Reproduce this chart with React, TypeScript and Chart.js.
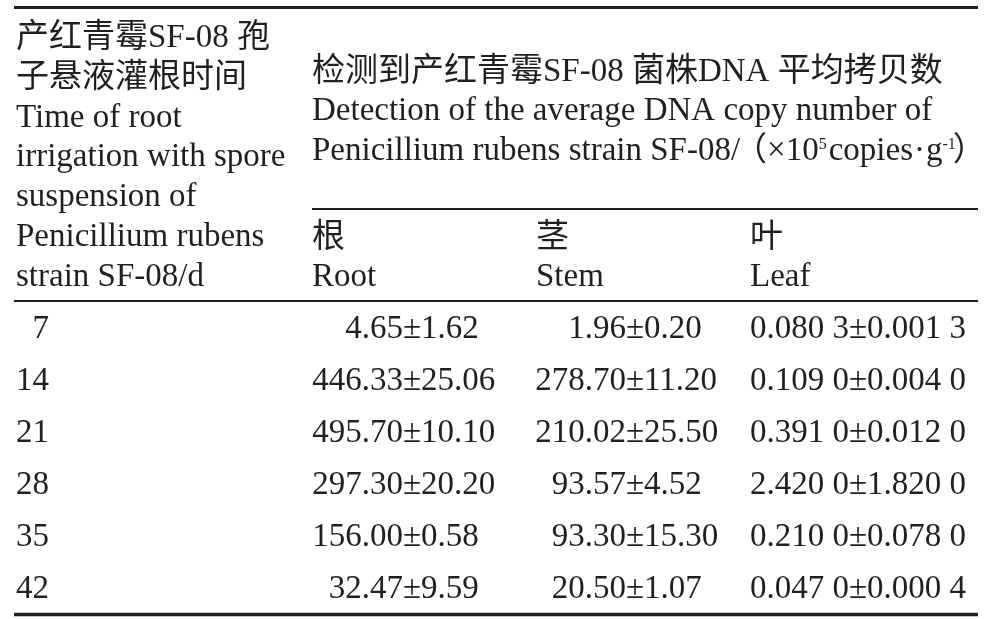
import { useEffect, useRef } from "react";
import { Chart, registerables } from "chart.js";

Chart.register(...registerables);

// ---------- data ----------
const days = [7, 14, 21, 28, 35, 42];
const rootMean = [4.65, 446.33, 495.7, 297.3, 156.0, 32.47];
const rootSd = [1.62, 25.06, 10.1, 20.2, 0.58, 9.59];
const stemMean = [1.96, 278.7, 210.02, 93.57, 93.3, 20.5];
const stemSd = [0.2, 11.2, 25.5, 4.52, 15.3, 1.07];
const leafMean = [0.0803, 0.109, 0.391, 2.42, 0.21, 0.047];
const leafSd = [0.0013, 0.004, 0.012, 1.82, 0.078, 0.0004];

const firstColHeader = [
  "产红青霉SF-08 孢",
  "子悬液灌根时间",
  "Time of root",
  "irrigation with spore",
  "suspension of",
  "Penicillium rubens",
  "strain SF-08/d",
];
const groupHeaderLine1 = "检测到产红青霉SF-08 菌株DNA 平均拷贝数";
const groupHeaderLine2 = "Detection of the average DNA copy number of";
const groupHeaderLine3 = [
  { t: "Penicillium rubens strain SF-08/" },
  { gap: -6 },
  { t: "（" },
  { gap: 0 },
  { t: "×10" },
  { t: "5", sup: true },
  { gap: 2 },
  { t: "copies" },
  { gap: 1 },
  { t: "·" },
  { gap: 1 },
  { t: "g" },
  { t: "-1", sup: true },
  { gap: -3 },
  { t: "）" },
];
const subHeadersCn = ["根", "茎", "叶"];
const subHeadersEn = ["Root", "Stem", "Leaf"];

// ---------- layout / style ----------
const W = 996;
const H = 619;
const COLOR = "#231f20";
const FS = 33;
const SUP_FS = 16;
const font = (s: number) => `${s}px "Liberation Serif", "Noto Sans CJK SC", serif`;
const LEFT = 14;
const RIGHT = 978;
const col1TextX = 16;
const groupX = 312;
const subColX = [312, 536, 750];
const dayRightX = 49;
const pmAnchors = [412, 635, 858]; // centre of the ± sign per value column
const headerFirstBaseline = 47;
const headerLineStep = 39.8;
const groupFirstBaseline = 80.5;
const subCnBaseline = 246.5;
const subEnBaseline = 286;
const firstRowBaseline = 338;
const rowStep = 52;
const rules = [
  { y: 7.5, x0: LEFT, x1: RIGHT, w: 3 },
  { y: 209, x0: groupX, x1: RIGHT, w: 2 },
  { y: 301, x0: LEFT, x1: RIGHT, w: 2 },
  { y: 614.5, x0: LEFT, x1: RIGHT, w: 3.5 },
];

const fmt2 = (v: number) => v.toFixed(2);
const fmt4 = (v: number) => {
  const s = v.toFixed(4);
  return s.slice(0, -1) + " " + s.slice(-1);
};

const valueColumns = [
  { mean: rootMean, sd: rootSd, f: fmt2 },
  { mean: stemMean, sd: stemSd, f: fmt2 },
  { mean: leafMean, sd: leafSd, f: fmt4 },
];

const tablePlugin = {
  id: "tableDraw",
  afterDraw(chart: any) {
    const { ctx } = chart;
    const xs = chart.scales.x;
    const ys = chart.scales.y;
    const px = (v: number) => xs.getPixelForValue(v);
    const py = (v: number) => ys.getPixelForValue(v);
    ctx.save();
    ctx.fillStyle = COLOR;
    ctx.strokeStyle = COLOR;
    ctx.textBaseline = "alphabetic";

    // rules
    rules.forEach((r) => {
      ctx.lineWidth = r.w;
      ctx.beginPath();
      ctx.moveTo(px(r.x0), py(r.y));
      ctx.lineTo(px(r.x1), py(r.y));
      ctx.stroke();
    });

    ctx.font = font(FS);
    ctx.textAlign = "left";
    firstColHeader.forEach((t, i) => {
      ctx.fillText(t, px(col1TextX), py(headerFirstBaseline + i * headerLineStep));
    });
    ctx.fillText(groupHeaderLine1, px(groupX), py(groupFirstBaseline));
    ctx.fillText(groupHeaderLine2, px(groupX), py(groupFirstBaseline + headerLineStep));
    // rich third line
    let cx = px(groupX);
    const by = py(groupFirstBaseline + 2 * headerLineStep);
    groupHeaderLine3.forEach((s: any) => {
      if (s.gap !== undefined) {
        cx += s.gap;
        return;
      }
      ctx.font = font(s.sup ? SUP_FS : FS);
      ctx.fillText(s.t, cx, s.sup ? by - 11 : by);
      cx += ctx.measureText(s.t).width;
    });
    ctx.font = font(FS);
    subHeadersCn.forEach((t, i) => ctx.fillText(t, px(subColX[i]), py(subCnBaseline)));
    subHeadersEn.forEach((t, i) => ctx.fillText(t, px(subColX[i]), py(subEnBaseline)));

    // data cells from dataset elements
    const dayMeta = chart.getDatasetMeta(0);
    ctx.textAlign = "right";
    dayMeta.data.forEach((el: any, i: number) => {
      ctx.fillText(String(days[i]), el.x, el.y);
    });
    const pmW = ctx.measureText("±").width;
    valueColumns.forEach((col, c) => {
      const meta = chart.getDatasetMeta(c + 1);
      meta.data.forEach((el: any, i: number) => {
        ctx.textAlign = "right";
        ctx.fillText(col.f(col.mean[i]), el.x - pmW / 2, el.y);
        ctx.textAlign = "center";
        ctx.fillText("±", el.x, el.y);
        ctx.textAlign = "left";
        ctx.fillText(col.f(col.sd[i]), el.x + pmW / 2, el.y);
      });
    });
    ctx.restore();
  },
};

export default function App() {
  const ref = useRef<HTMLCanvasElement | null>(null);
  useEffect(() => {
    if (!ref.current) return;
    const rowY = (i: number) => firstRowBaseline + i * rowStep;
    const datasets = [
      {
        label: "day",
        data: days.map((_, i) => ({ x: dayRightX, y: rowY(i) })),
        pointRadius: 0,
      },
      ...valueColumns.map((col, c) => ({
        label: subHeadersEn[c],
        data: col.mean.map((_, i) => ({ x: pmAnchors[c], y: rowY(i) })),
        pointRadius: 0,
      })),
    ];
    const chart = new Chart(ref.current, {
      type: "scatter",
      data: { datasets },
      options: {
        animation: false,
        responsive: true,
        maintainAspectRatio: false,
        events: [],
        layout: { padding: 0 },
        plugins: { legend: { display: false }, tooltip: { enabled: false } },
        scales: {
          x: { type: "linear", min: 0, max: W, display: false },
          y: { type: "linear", min: 0, max: H, reverse: true, display: false },
        },
      },
      plugins: [tablePlugin],
    });
    return () => chart.destroy();
  }, []);
  return (
    <div
      style={{
        position: "fixed",
        left: 0,
        top: 0,
        width: W,
        height: H,
        background: "#fff",
      }}
    >
      <canvas ref={ref} />
    </div>
  );
}
